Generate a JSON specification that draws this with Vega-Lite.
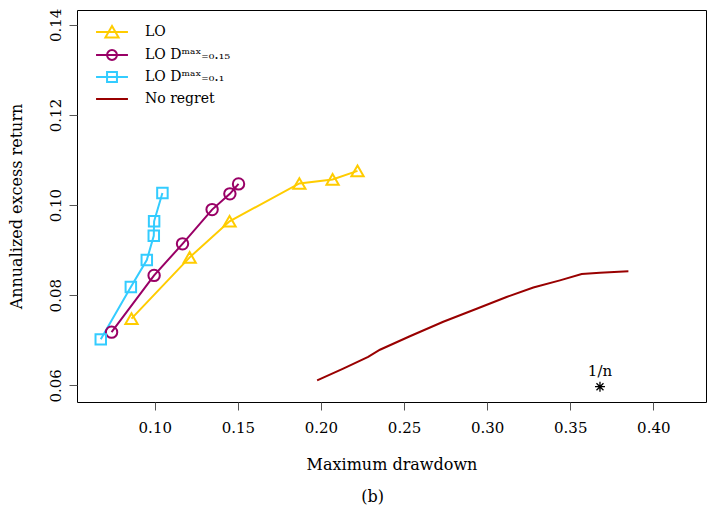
{
  "$schema": "https://vega.github.io/schema/vega-lite/v6.json",
  "width": 629,
  "height": 392,
  "autosize": {"type": "none"},
  "padding": {"left": 77, "top": 10, "right": 1, "bottom": 115},
  "background": "white",
  "title": {"text": "(b)", "orient": "bottom", "anchor": "middle", "font": "DejaVu Serif", "fontSize": 16, "fontWeight": "normal", "color": "black", "offset": 17, "dx": -19},
  "config": {
    "view": {"stroke": "black", "strokeWidth": 1},
    "axis": {"grid": false, "domain": false, "labelFont": "DejaVu Serif", "titleFont": "DejaVu Serif", "labelFontSize": 15, "titleFontSize": 16, "titleFontWeight": "normal", "labelColor": "black", "titleColor": "black", "tickColor": "#555", "tickSize": 8}
  },
  "data": {"values": [
    {"series": "LO", "x": 0.086, "y": 0.0748},
    {"series": "LO", "x": 0.121, "y": 0.0884},
    {"series": "LO", "x": 0.145, "y": 0.0964},
    {"series": "LO", "x": 0.187, "y": 0.1048},
    {"series": "LO", "x": 0.207, "y": 0.1057},
    {"series": "LO", "x": 0.222, "y": 0.1076},
    {"series": "LO_0.15", "x": 0.074, "y": 0.0718},
    {"series": "LO_0.15", "x": 0.0996, "y": 0.0844},
    {"series": "LO_0.15", "x": 0.1167, "y": 0.0914},
    {"series": "LO_0.15", "x": 0.1345, "y": 0.099},
    {"series": "LO_0.15", "x": 0.1452, "y": 0.1025},
    {"series": "LO_0.15", "x": 0.1504, "y": 0.1047},
    {"series": "LO_0.1", "x": 0.0675, "y": 0.0702},
    {"series": "LO_0.1", "x": 0.0856, "y": 0.0818},
    {"series": "LO_0.1", "x": 0.0952, "y": 0.0878},
    {"series": "LO_0.1", "x": 0.0994, "y": 0.0932},
    {"series": "LO_0.1", "x": 0.0996, "y": 0.0964},
    {"series": "LO_0.1", "x": 0.1046, "y": 0.1027},
    {"series": "No regret", "x": 0.1977, "y": 0.0611},
    {"series": "No regret", "x": 0.2134, "y": 0.0637},
    {"series": "No regret", "x": 0.2284, "y": 0.0663},
    {"series": "No regret", "x": 0.2355, "y": 0.0679},
    {"series": "No regret", "x": 0.2535, "y": 0.0709},
    {"series": "No regret", "x": 0.2736, "y": 0.0741},
    {"series": "No regret", "x": 0.2937, "y": 0.077},
    {"series": "No regret", "x": 0.3117, "y": 0.0796},
    {"series": "No regret", "x": 0.3278, "y": 0.0817},
    {"series": "No regret", "x": 0.3438, "y": 0.0833},
    {"series": "No regret", "x": 0.3569, "y": 0.0847},
    {"series": "No regret", "x": 0.3679, "y": 0.085},
    {"series": "No regret", "x": 0.385, "y": 0.0853},
    {"series": "1/n", "x": 0.3679, "y": 0.0597}
  ]},
  "encoding": {
    "x": {"field": "x", "type": "quantitative", "scale": {"domain": [0.0532, 0.4317], "nice": false, "zero": false},
      "axis": {"values": [0.1, 0.15, 0.2, 0.25, 0.3, 0.35, 0.4], "format": ".2f", "title": "Maximum drawdown", "labelPadding": 10, "titlePadding": 21}},
    "y": {"field": "y", "type": "quantitative", "scale": {"domain": [0.0563, 0.1433], "nice": false, "zero": false},
      "axis": {"values": [0.06, 0.08, 0.1, 0.12, 0.14], "format": ".2f", "title": "Annualized excess return", "labelAngle": 270, "labelAlign": "center", "labelBaseline": "bottom", "labelPadding": 6, "titlePadding": 24}}
  },
  "layer": [
    {
      "transform": [{"filter": "datum.series !== '1/n'"}],
      "mark": {"type": "line", "strokeWidth": 2},
      "encoding": {
        "color": {"field": "series", "type": "nominal",
          "scale": {"domain": ["LO", "LO_0.15", "LO_0.1", "No regret"], "range": ["#FFCC00", "#990066", "#33CCFF", "#990000"]},
          "legend": {"title": null, "orient": "none", "legendX": 23, "legendY": 10, "padding": 0, "symbolSize": 484, "symbolStrokeWidth": 2, "symbolFillColor": "transparent", "labelFont": "DejaVu Serif", "labelFontSize": 14, "labelColor": "black", "labelOffset": 21, "rowPadding": 1,
            "labelExpr": "datum.value === 'LO_0.15' ? 'LO Dᵐᵃˣ₌₀.₁₅' : datum.value === 'LO_0.1' ? 'LO Dᵐᵃˣ₌₀.₁' : datum.value",
            "encode": {"symbols": {"update": {"shape": {"signal": "datum.value === 'LO' ? 'M-1.45,0L1.45,0M0,-0.55L0.6,0.5L-0.6,0.5Z' : datum.value === 'LO_0.15' ? 'M-1.45,0L1.45,0M0.45,0A0.45,0.45 0 1,1 -0.45,0A0.45,0.45 0 1,1 0.45,0' : datum.value === 'LO_0.1' ? 'M-1.45,0L1.45,0M-0.45,-0.45L0.45,-0.45L0.45,0.45L-0.45,0.45Z' : 'M-1.45,0L1.45,0'"}, "fill": {"value": "transparent"}, "strokeWidth": {"value": 2}}}}}
        }
      }
    },
    {
      "transform": [{"filter": "datum.series !== '1/n' && datum.series !== 'No regret'"}],
      "mark": {"type": "point", "filled": false, "strokeWidth": 2, "opacity": 1},
      "encoding": {
        "color": {"field": "series", "type": "nominal"},
        "shape": {"field": "series", "type": "nominal", "scale": {"domain": ["LO", "LO_0.15", "LO_0.1"], "range": ["triangle-up", "circle", "square"]}, "legend": null},
        "size": {"field": "series", "type": "nominal", "scale": {"domain": ["LO", "LO_0.15", "LO_0.1"], "range": [150, 110, 110]}, "legend": null}
      }
    },
    {
      "transform": [{"filter": "datum.series === '1/n'"}],
      "mark": {"type": "point", "filled": false, "stroke": "black", "strokeWidth": 1.3, "opacity": 1, "size": 100, "shape": "M-1,0L1,0M0,-1L0,1M-0.7,-0.7L0.7,0.7M-0.7,0.7L0.7,-0.7"},
      "encoding": {}
    },
    {
      "transform": [{"filter": "datum.series === '1/n'"}],
      "mark": {"type": "text", "font": "DejaVu Serif", "fontSize": 15, "dy": -16, "color": "black"},
      "encoding": {"text": {"field": "series"}}
    }
  ]
}
